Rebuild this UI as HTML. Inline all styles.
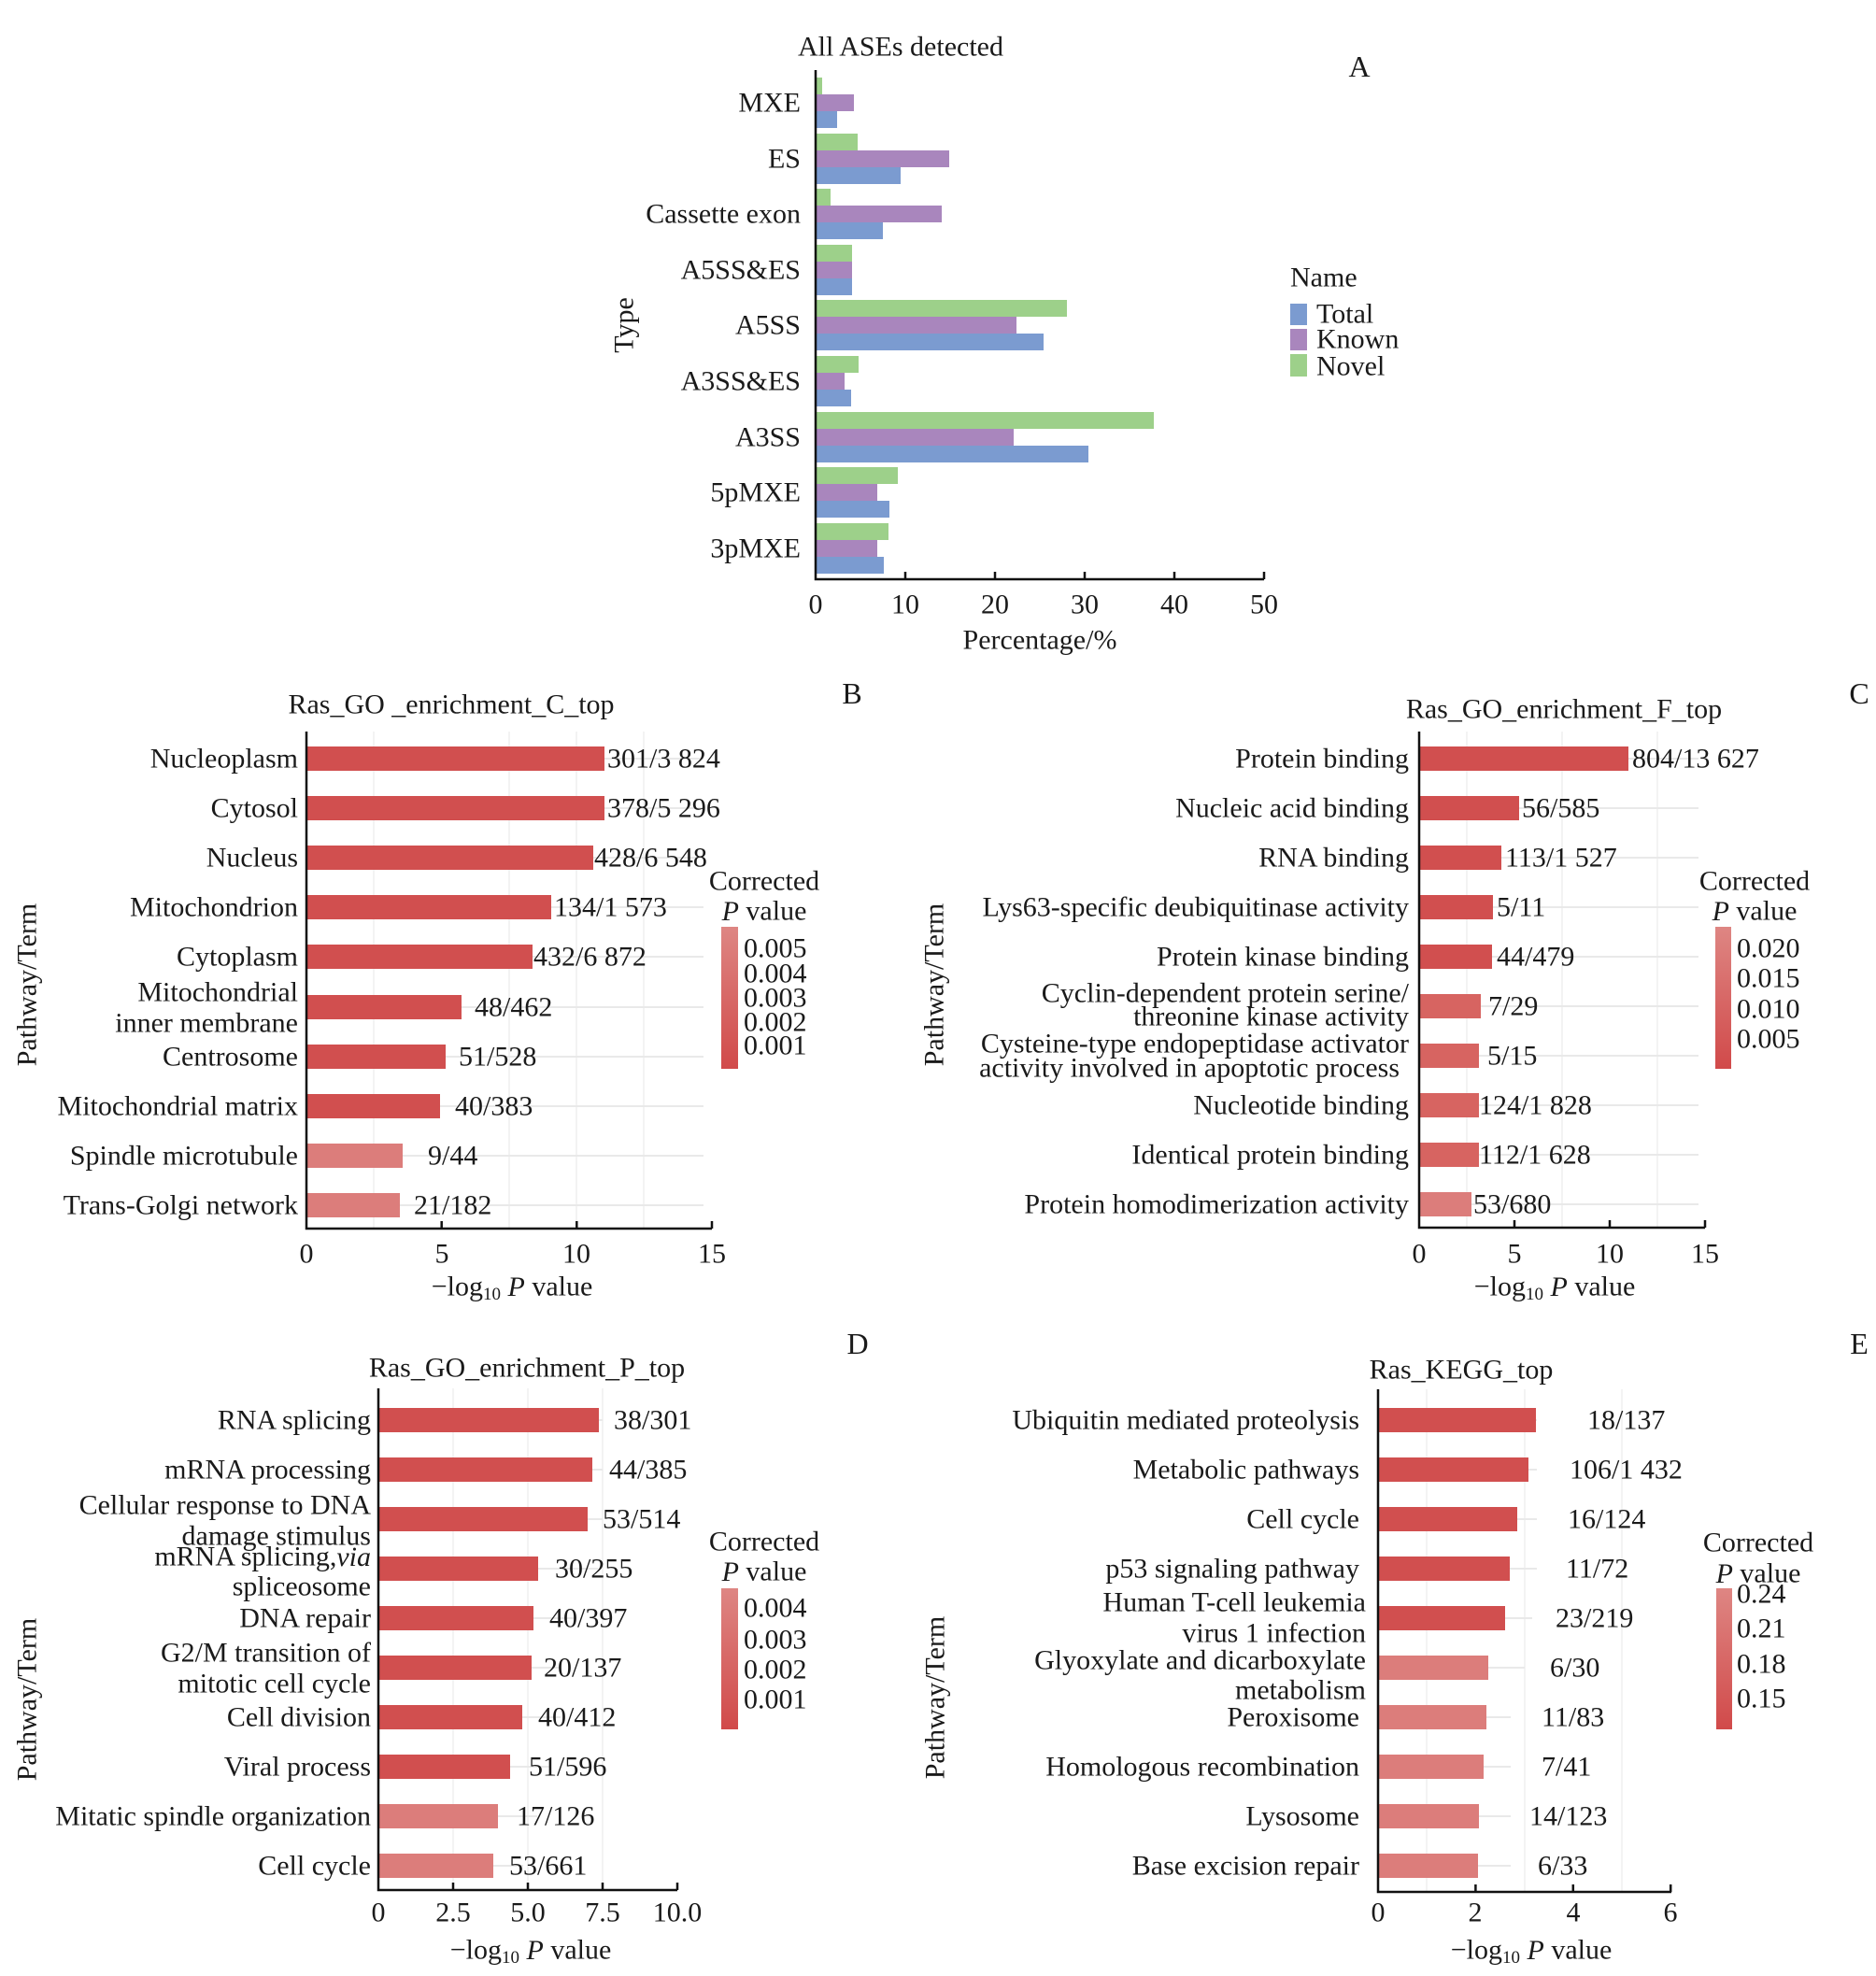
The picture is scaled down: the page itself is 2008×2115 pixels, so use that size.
<!DOCTYPE html>
<html><head><meta charset="utf-8"><style>
html,body{margin:0;padding:0;background:#fff}
svg{display:block}
text{font-family:"Liberation Serif",serif;font-size:30px;fill:#1a1a1a}
.r{text-anchor:end}.m{text-anchor:middle}
</style></head><body>
<svg width="2008" height="2115" viewBox="0 0 2008 2115" xmlns="http://www.w3.org/2000/svg" dominant-baseline="central">
<defs>
<linearGradient id="cb" x1="0" y1="0" x2="0" y2="1"><stop offset="0" stop-color="#de8683"/><stop offset="1" stop-color="#d14a4a"/></linearGradient>
</defs>

<!-- ===== Panel A ===== -->
<text x="964" y="50" class="m">All ASEs detected</text>
<text x="1455" y="71" class="m" style="font-size:32px">A</text>
<g>
<!-- groups: top=83+59.6i; green, purple, blue ; 9.6 px per % -->
<rect x="873" y="83" width="7" height="18" fill="#9dd08a"/><rect x="873" y="101" width="41" height="18" fill="#a986bd"/><rect x="873" y="119" width="23" height="18" fill="#7b9bd0"/>
<rect x="873" y="143" width="45" height="18" fill="#9dd08a"/><rect x="873" y="161" width="143" height="18" fill="#a986bd"/><rect x="873" y="179" width="91" height="18" fill="#7b9bd0"/>
<rect x="873" y="202" width="16" height="18" fill="#9dd08a"/><rect x="873" y="220" width="135" height="18" fill="#a986bd"/><rect x="873" y="238" width="72" height="18" fill="#7b9bd0"/>
<rect x="873" y="262" width="39" height="18" fill="#9dd08a"/><rect x="873" y="280" width="39" height="18" fill="#a986bd"/><rect x="873" y="298" width="39" height="18" fill="#7b9bd0"/>
<rect x="873" y="321" width="269" height="18" fill="#9dd08a"/><rect x="873" y="339" width="215" height="18" fill="#a986bd"/><rect x="873" y="357" width="244" height="18" fill="#7b9bd0"/>
<rect x="873" y="381" width="46" height="18" fill="#9dd08a"/><rect x="873" y="399" width="31" height="18" fill="#a986bd"/><rect x="873" y="417" width="38" height="18" fill="#7b9bd0"/>
<rect x="873" y="441" width="362" height="18" fill="#9dd08a"/><rect x="873" y="459" width="212" height="18" fill="#a986bd"/><rect x="873" y="477" width="292" height="18" fill="#7b9bd0"/>
<rect x="873" y="500" width="88" height="18" fill="#9dd08a"/><rect x="873" y="518" width="66" height="18" fill="#a986bd"/><rect x="873" y="536" width="79" height="18" fill="#7b9bd0"/>
<rect x="873" y="560" width="78" height="18" fill="#9dd08a"/><rect x="873" y="578" width="66" height="18" fill="#a986bd"/><rect x="873" y="596" width="73" height="18" fill="#7b9bd0"/>
</g>
<g>
<text x="857" y="110" class="r">MXE</text>
<text x="857" y="170" class="r">ES</text>
<text x="857" y="229" class="r">Cassette exon</text>
<text x="857" y="289" class="r">A5SS&amp;ES</text>
<text x="857" y="348" class="r">A5SS</text>
<text x="857" y="408" class="r">A3SS&amp;ES</text>
<text x="857" y="468" class="r">A3SS</text>
<text x="857" y="527" class="r">5pMXE</text>
<text x="857" y="587" class="r">3pMXE</text>
</g>
<path d="M873 75V620H1353M969 620v-8M1065 620v-8M1161 620v-8M1257 620v-8M1353 620v-8" stroke="#111" stroke-width="2.5" fill="none"/>
<g class="m">
<text x="873" y="647" class="m">0</text><text x="969" y="647" class="m">10</text><text x="1065" y="647" class="m">20</text><text x="1161" y="647" class="m">30</text><text x="1257" y="647" class="m">40</text><text x="1353" y="647" class="m">50</text>
</g>
<text x="1113" y="685" class="m">Percentage/%</text>
<text transform="translate(668,348) rotate(-90)" class="m">Type</text>
<text x="1381" y="297">Name</text>
<rect x="1381" y="325" width="18" height="23" fill="#7b9bd0"/><text x="1409" y="336">Total</text>
<rect x="1381" y="352" width="18" height="23" fill="#a986bd"/><text x="1409" y="363">Known</text>
<rect x="1381" y="379" width="18" height="24" fill="#9dd08a"/><text x="1409" y="392">Novel</text>

<!-- ===== Panel B ===== -->
<text x="483" y="754" class="m">Ras_GO _enrichment_C_top</text>
<text x="912" y="742" class="m" style="font-size:32px">B</text>
<g stroke="#f3f3f3" stroke-width="2"><path d="M400 783V1315M545 783V1315M617 783V1315M689 783V1315"/></g>
<g stroke="#e9e9e9" stroke-width="2">
<path d="M328 812H753M328 865H753M328 918H753M328 971H753M328 1024H753M328 1078H753M328 1131H753M328 1184H753M328 1237H753M328 1290H753"/></g>
<g fill="#d14f4f">
<rect x="328" y="799" width="319" height="26"/><rect x="328" y="852" width="319" height="26"/><rect x="328" y="905" width="307" height="26"/><rect x="328" y="958" width="262" height="26"/><rect x="328" y="1011" width="242" height="26"/><rect x="328" y="1065" width="166" height="26"/><rect x="328" y="1118" width="149" height="26"/><rect x="328" y="1171" width="143" height="26"/></g>
<g fill="#dc7d7b"><rect x="328" y="1224" width="103" height="26"/><rect x="328" y="1277" width="100" height="26"/></g>
<g>
<text x="650" y="812">301/3 824</text><text x="650" y="865">378/5 296</text><text x="636" y="918">428/6 548</text><text x="593" y="971">134/1 573</text><text x="571" y="1024">432/6 872</text><text x="508" y="1078">48/462</text><text x="491" y="1131">51/528</text><text x="487" y="1184">40/383</text><text x="458" y="1237">9/44</text><text x="443" y="1290">21/182</text>
</g>
<g class="r">
<text x="319" y="812" class="r">Nucleoplasm</text><text x="319" y="865" class="r">Cytosol</text><text x="319" y="918" class="r">Nucleus</text><text x="319" y="971" class="r">Mitochondrion</text><text x="319" y="1024" class="r">Cytoplasm</text><text x="319" y="1062" class="r">Mitochondrial</text><text x="319" y="1095" class="r">inner membrane</text><text x="319" y="1131" class="r">Centrosome</text><text x="319" y="1184" class="r">Mitochondrial matrix</text><text x="319" y="1237" class="r">Spindle microtubule</text><text x="319" y="1290" class="r">Trans-Golgi network</text>
</g>
<path d="M328 783V1315H762M472.7 1315v-8M617.3 1315v-8M762 1315v-8" stroke="#111" stroke-width="2.5" fill="none"/>
<text x="328" y="1342" class="m">0</text><text x="473" y="1342" class="m">5</text><text x="617" y="1342" class="m">10</text><text x="762" y="1342" class="m">15</text>
<text x="548" y="1377" class="m">−log<tspan dy="8" style="font-size:19px">10</tspan><tspan dy="-8"> </tspan><tspan font-style="italic">P</tspan> value</text>
<text transform="translate(29,1054) rotate(-90)" class="m">Pathway/Term</text>
<text x="818" y="943" class="m">Corrected</text>
<text x="818" y="975" class="m"><tspan font-style="italic">P</tspan> value</text>
<rect x="772" y="992" width="18" height="152" fill="url(#cb)"/>
<text x="796" y="1015">0.005</text><text x="796" y="1042">0.004</text><text x="796" y="1068">0.003</text><text x="796" y="1094">0.002</text><text x="796" y="1119">0.001</text>

<!-- ===== Panel C ===== -->
<text x="1674" y="759" class="m">Ras_GO_enrichment_F_top</text>
<text x="1990" y="742" class="m" style="font-size:32px">C</text>
<g stroke="#f3f3f3" stroke-width="2"><path d="M1570 783V1314M1672 783V1314M1774 783V1314"/></g>
<g stroke="#e9e9e9" stroke-width="2">
<path d="M1519 812H1818M1519 865H1818M1519 918H1818M1519 971H1818M1519 1024H1818M1519 1077H1818M1519 1130H1818M1519 1183H1818M1519 1236H1818M1519 1289H1818"/></g>
<g fill="#d14f4f"><rect x="1519" y="799" width="224" height="26"/><rect x="1519" y="852" width="107" height="26"/><rect x="1519" y="905" width="88" height="26"/><rect x="1519" y="958" width="79" height="26"/><rect x="1519" y="1011" width="78" height="26"/></g>
<g fill="#d76461"><rect x="1519" y="1064" width="66" height="26"/><rect x="1519" y="1117" width="64" height="26"/><rect x="1519" y="1170" width="64" height="26"/><rect x="1519" y="1223" width="64" height="26"/></g>
<rect x="1519" y="1276" width="56" height="26" fill="#dc7d7b"/>
<g>
<text x="1747" y="812">804/13 627</text><text x="1629" y="865">56/585</text><text x="1611" y="918">113/1 527</text><text x="1602" y="971">5/11</text><text x="1602" y="1024">44/479</text><text x="1593" y="1077">7/29</text><text x="1592" y="1130">5/15</text><text x="1583" y="1183">124/1 828</text><text x="1583" y="1236">112/1 628</text><text x="1577" y="1289">53/680</text>
</g>
<g>
<text x="1508" y="812" class="r">Protein binding</text><text x="1508" y="865" class="r">Nucleic acid binding</text><text x="1508" y="918" class="r">RNA binding</text><text x="1508" y="971" class="r">Lys63-specific deubiquitinase activity</text><text x="1508" y="1024" class="r">Protein kinase binding</text><text x="1508" y="1063" class="r">Cyclin-dependent protein serine/</text><text x="1508" y="1088" class="r">threonine kinase activity</text><text x="1508" y="1117" class="r">Cysteine-type endopeptidase activator</text><text x="1498" y="1143" class="r">activity involved in apoptotic process</text><text x="1508" y="1183" class="r">Nucleotide binding</text><text x="1508" y="1236" class="r">Identical protein binding</text><text x="1508" y="1289" class="r">Protein homodimerization activity</text>
</g>
<path d="M1519 783V1314H1825M1621 1314v-8M1723 1314v-8M1825 1314v-8" stroke="#111" stroke-width="2.5" fill="none"/>
<text x="1519" y="1342" class="m">0</text><text x="1621" y="1342" class="m">5</text><text x="1723" y="1342" class="m">10</text><text x="1825" y="1342" class="m">15</text>
<text x="1664" y="1377" class="m">−log<tspan dy="8" style="font-size:19px">10</tspan><tspan dy="-8"> </tspan><tspan font-style="italic">P</tspan> value</text>
<text transform="translate(1000,1054) rotate(-90)" class="m">Pathway/Term</text>
<text x="1878" y="943" class="m">Corrected</text>
<text x="1878" y="975" class="m"><tspan font-style="italic">P</tspan> value</text>
<rect x="1836" y="992" width="17" height="152" fill="url(#cb)"/>
<text x="1859" y="1015">0.020</text><text x="1859" y="1047">0.015</text><text x="1859" y="1080">0.010</text><text x="1859" y="1112">0.005</text>

<!-- ===== Panel D ===== -->
<text x="564" y="1464" class="m">Ras_GO_enrichment_P_top</text>
<text x="918" y="1438" class="m" style="font-size:32px">D</text>
<g stroke="#f3f3f3" stroke-width="2"><path d="M485 1486V2023M565 1486V2023M645 1486V2023"/></g>
<g stroke="#e9e9e9" stroke-width="2">
<path d="M405 1520H645M405 1573H645M405 1626H645M405 1679H640M405 1732H615M405 1785H600M405 1838H600M405 1891H590M405 1944H575M405 1997H560"/></g>
<g fill="#d14f4f"><rect x="405" y="1507" width="236" height="26"/><rect x="405" y="1560" width="229" height="26"/><rect x="405" y="1613" width="224" height="26"/><rect x="405" y="1666" width="171" height="26"/><rect x="405" y="1719" width="166" height="26"/><rect x="405" y="1772" width="164" height="26"/><rect x="405" y="1825" width="154" height="26"/><rect x="405" y="1878" width="141" height="26"/></g>
<g fill="#dc7d7b"><rect x="405" y="1931" width="128" height="26"/><rect x="405" y="1984" width="123" height="26"/></g>
<g>
<text x="657" y="1520">38/301</text><text x="652" y="1573">44/385</text><text x="645" y="1626">53/514</text><text x="594" y="1679">30/255</text><text x="588" y="1732">40/397</text><text x="582" y="1785">20/137</text><text x="576" y="1838">40/412</text><text x="566" y="1891">51/596</text><text x="553" y="1944">17/126</text><text x="545" y="1997">53/661</text>
</g>
<g>
<text x="397" y="1520" class="r">RNA splicing</text><text x="397" y="1573" class="r">mRNA processing</text><text x="397" y="1611" class="r">Cellular response to DNA</text><text x="397" y="1644" class="r">damage stimulus</text><text x="397" y="1666" class="r">mRNA splicing,<tspan font-style="italic">via</tspan></text><text x="397" y="1698" class="r">spliceosome</text><text x="397" y="1732" class="r">DNA repair</text><text x="397" y="1769" class="r">G2/M transition of</text><text x="397" y="1802" class="r">mitotic cell cycle</text><text x="397" y="1838" class="r">Cell division</text><text x="397" y="1891" class="r">Viral process</text><text x="397" y="1944" class="r">Mitatic spindle organization</text><text x="397" y="1997" class="r">Cell cycle</text>
</g>
<path d="M405 1486V2023H725M485 2023v-8M565 2023v-8M645 2023v-8M725 2023v-8" stroke="#111" stroke-width="2.5" fill="none"/>
<text x="405" y="2047" class="m">0</text><text x="485" y="2047" class="m">2.5</text><text x="565" y="2047" class="m">5.0</text><text x="645" y="2047" class="m">7.5</text><text x="725" y="2047" class="m">10.0</text>
<text x="568" y="2087" class="m">−log<tspan dy="8" style="font-size:19px">10</tspan><tspan dy="-8"> </tspan><tspan font-style="italic">P</tspan> value</text>
<text transform="translate(29,1819) rotate(-90)" class="m">Pathway/Term</text>
<text x="818" y="1650" class="m">Corrected</text>
<text x="818" y="1682" class="m"><tspan font-style="italic">P</tspan> value</text>
<rect x="772" y="1700" width="18" height="151" fill="url(#cb)"/>
<text x="796" y="1721">0.004</text><text x="796" y="1755">0.003</text><text x="796" y="1787">0.002</text><text x="796" y="1819">0.001</text>

<!-- ===== Panel E ===== -->
<text x="1564" y="1466" class="m">Ras_KEGG_top</text>
<text x="1990" y="1438" class="m" style="font-size:32px">E</text>
<g stroke="#f3f3f3" stroke-width="2"><path d="M1527 1487V2025M1632 1487V2025M1736 1487V2025"/></g>
<g stroke="#e9e9e9" stroke-width="2">
<path d="M1475 1520H1645M1475 1573H1645M1475 1626H1645M1475 1679H1645M1475 1732H1640M1475 1785H1632M1475 1838H1617M1475 1891H1617M1475 1944H1617M1475 1997H1617"/></g>
<g fill="#d14f4f"><rect x="1475" y="1507" width="169" height="26"/><rect x="1475" y="1560" width="161" height="26"/><rect x="1475" y="1613" width="149" height="26"/><rect x="1475" y="1666" width="141" height="26"/><rect x="1475" y="1719" width="136" height="26"/></g>
<g fill="#dc7d7b"><rect x="1475" y="1772" width="118" height="26"/><rect x="1475" y="1825" width="116" height="26"/><rect x="1475" y="1878" width="113" height="26"/><rect x="1475" y="1931" width="108" height="26"/><rect x="1475" y="1984" width="107" height="26"/></g>
<g>
<text x="1699" y="1520">18/137</text><text x="1680" y="1573">106/1 432</text><text x="1678" y="1626">16/124</text><text x="1676" y="1679">11/72</text><text x="1665" y="1732">23/219</text><text x="1659" y="1785">6/30</text><text x="1650" y="1838">11/83</text><text x="1650" y="1891">7/41</text><text x="1637" y="1944">14/123</text><text x="1646" y="1997">6/33</text>
</g>
<g>
<text x="1455" y="1520" class="r">Ubiquitin mediated proteolysis</text><text x="1455" y="1573" class="r">Metabolic pathways</text><text x="1455" y="1626" class="r">Cell cycle</text><text x="1455" y="1679" class="r">p53 signaling pathway</text><text x="1462" y="1715" class="r">Human T-cell leukemia</text><text x="1462" y="1748" class="r">virus 1 infection</text><text x="1462" y="1777" class="r">Glyoxylate and dicarboxylate</text><text x="1462" y="1809" class="r">metabolism</text><text x="1455" y="1838" class="r">Peroxisome</text><text x="1455" y="1891" class="r">Homologous recombination</text><text x="1455" y="1944" class="r">Lysosome</text><text x="1455" y="1997" class="r">Base excision repair</text>
</g>
<path d="M1475 1487V2025H1789M1579.4 2025v-8M1683.8 2025v-8M1788.2 2025v-8" stroke="#111" stroke-width="2.5" fill="none"/>
<text x="1475" y="2047" class="m">0</text><text x="1579" y="2047" class="m">2</text><text x="1684" y="2047" class="m">4</text><text x="1788" y="2047" class="m">6</text>
<text x="1639" y="2087" class="m">−log<tspan dy="8" style="font-size:19px">10</tspan><tspan dy="-8"> </tspan><tspan font-style="italic">P</tspan> value</text>
<text transform="translate(1001,1817) rotate(-90)" class="m">Pathway/Term</text>
<text x="1882" y="1651" class="m">Corrected</text>
<text x="1882" y="1684" class="m"><tspan font-style="italic">P</tspan> value</text>
<rect x="1837" y="1700" width="17" height="151" fill="url(#cb)"/>
<text x="1859" y="1706">0.24</text><text x="1859" y="1743">0.21</text><text x="1859" y="1781">0.18</text><text x="1859" y="1818">0.15</text>
</svg>
</body></html>
